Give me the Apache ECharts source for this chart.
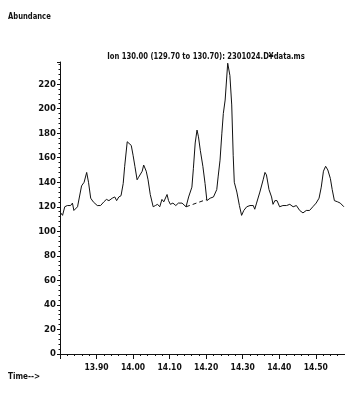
<!DOCTYPE html>
<html>
<head>
<meta charset="utf-8">
<script src="https://cdn.jsdelivr.net/npm/echarts@6/dist/echarts.min.js"></script>
<style>
  html, body { margin: 0; padding: 0; background: #fff; }
  #chart { width: 345px; height: 397px; }
</style>
</head>
<body>
<div id="chart"></div>
<script>
// 离子色谱图数据 (time, abundance)
const times = [
  13.802, 13.807, 13.813, 13.820, 13.825, 13.829, 13.834, 13.838, 13.848, 13.853,
  13.859, 13.866, 13.873, 13.878, 13.884, 13.891, 13.896, 13.902, 13.911, 13.920,
  13.927, 13.934, 13.943, 13.950, 13.955, 13.961, 13.967, 13.973, 13.977, 13.984,
  13.988, 13.995, 14.000, 14.005, 14.011, 14.015, 14.020, 14.025, 14.029, 14.036,
  14.041, 14.047, 14.055, 14.061, 14.067, 14.073, 14.079, 14.084, 14.093, 14.097,
  14.102, 14.109, 14.117, 14.124, 14.134, 14.138, 14.145, 14.152, 14.161, 14.165,
  14.170, 14.175, 14.179, 14.184, 14.191, 14.197, 14.202, 14.211, 14.220, 14.229,
  14.233, 14.238, 14.243, 14.247, 14.252, 14.259, 14.265, 14.270, 14.274, 14.277,
  14.284, 14.291, 14.297, 14.303, 14.311, 14.320, 14.329, 14.333, 14.338, 14.347,
  14.356, 14.361, 14.365, 14.372, 14.379, 14.383, 14.388, 14.394, 14.401, 14.410,
  14.420, 14.429, 14.438, 14.447, 14.456, 14.465, 14.474, 14.483, 14.492, 14.501,
  14.509, 14.515, 14.521, 14.527, 14.533, 14.540, 14.545, 14.551, 14.560, 14.567,
  14.572, 14.577
];
const abundance = [
  115, 113, 120, 121, 122, 121, 123, 117, 120, 121,
  137, 140, 148, 140, 127, 124, 125, 121, 121, 124,
  126, 125, 127, 128, 125, 128, 129, 139, 153, 173,
  174, 170, 162, 153, 142, 144, 143, 149, 154, 149,
  142, 130, 120, 121, 122, 120, 126, 124, 130, 125,
  122, 123, 121, 123, 123, 123, 120, 128, 136, 151,
  172, 182.5, 177, 166, 153, 139, 125, 127, 128, 134,
  145, 158, 180, 196, 207, 237, 227, 203, 162, 140,
  132, 121, 113, 117, 120, 121, 121, 118, 123, 132,
  142, 148, 146, 134, 128, 122, 125, 125, 120, 121,
  121, 122, 120, 121, 117, 115, 117, 117, 120, 123,
  127, 136, 149, 153, 150, 143, 134, 125, 124, 123,
  124, 120
];
// 积分基线 (虚线)
const baseTimes = [14.145, 14.202];
const baseValues = [120, 126];
// 峰标注
const peakTime = 14.175;
const peakLabel = '14.175';

const xTicks = [13.9, 14.0, 14.1, 14.2, 14.3, 14.4, 14.5];
const yTicks = [0, 20, 40, 60, 80, 100, 120, 140, 160, 180, 200, 220];

const titleText = 'Ion 130.00 (129.70 to 130.70): 2301024.D\u00a5data.ms';
const FONT = "'Liberation Sans Narrow', 'DejaVu Sans Condensed', sans-serif";

const chart = echarts.init(document.getElementById('chart'), null, { renderer: 'canvas' });

const lineData = times.map((t, i) => {
  const item = { value: [t, abundance[i]] };
  if (t === peakTime) {
    item.label = {
      show: true,
      formatter: peakLabel,
      position: 'top',
      distance: 4,
      color: '#111',
      fontSize: 8.5,
      fontWeight: 'bold',
      fontFamily: FONT
    };
  }
  return item;
});

// 窄体文字 (横向压缩)
const narrowText = (text, x, y, size, sx, align) => ({
  type: 'text',
  x: x,
  y: y,
  scaleX: sx,
  silent: true,
  style: {
    text: text,
    fill: '#111',
    font: 'bold ' + size + 'px ' + FONT,
    align: align,
    verticalAlign: 'middle'
  }
});

const option = {
  backgroundColor: '#fff',
  animation: false,
  grid: { left: 60, right: 0, top: 62, bottom: 43 },
  graphic: [
    narrowText('Abundance', 8, 17, 9, 0.84, 'left'),
    narrowText(titleText, 206, 57, 9.5, 0.8, 'center'),
    narrowText('Time-->', 8, 377, 9, 0.9, 'left')
  ],
  xAxis: {
    type: 'value',
    min: 13.8,
    max: 14.58,
    interval: 0.1,
    axisLine: { show: true, lineStyle: { color: '#111', width: 1 } },
    axisTick: { show: true, length: 5, lineStyle: { color: '#111' } },
    minorTick: { show: true, splitNumber: 5, length: 2, lineStyle: { color: '#111' } },
    splitLine: { show: false },
    axisLabel: {
      showMinLabel: false,
      showMaxLabel: false,
      margin: 9,
      color: '#111',
      fontSize: 8.5,
      fontWeight: 'bold',
      fontFamily: FONT,
      formatter: v => xTicks.some(t => Math.abs(t - v) < 1e-6) ? v.toFixed(2) : ''
    }
  },
  yAxis: {
    type: 'value',
    min: 0,
    max: 238,
    interval: 20,
    axisLine: { show: true, lineStyle: { color: '#111', width: 1 } },
    axisTick: { show: true, length: 3, lineStyle: { color: '#111' } },
    minorTick: { show: true, splitNumber: 5, length: 1.5, lineStyle: { color: '#111' } },
    splitLine: { show: false },
    axisLabel: {
      showMaxLabel: false,
      margin: 4,
      color: '#111',
      fontSize: 9.5,
      fontWeight: 'bold',
      fontFamily: FONT,
      formatter: v => yTicks.includes(v) ? String(v) : ''
    }
  },
  series: [
    {
      type: 'line',
      data: lineData,
      symbol: 'none',
      lineStyle: { color: '#111', width: 1 }
    },
    {
      type: 'line',
      data: baseTimes.map((t, i) => [t, baseValues[i]]),
      symbol: 'none',
      lineStyle: { color: '#111', width: 1, type: [4, 3] }
    }
  ]
};

chart.setOption(option);
</script>
</body>
</html>
